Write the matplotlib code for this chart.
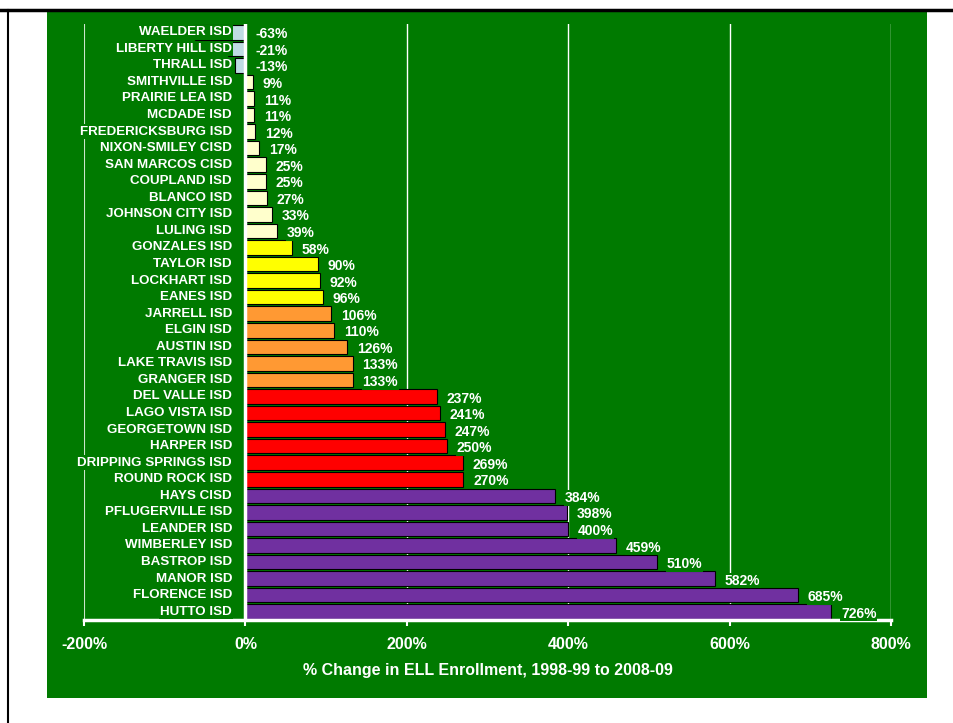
import matplotlib.pyplot as plt
from matplotlib.patches import Rectangle
from matplotlib.lines import Line2D

districts = [
    "WAELDER ISD", "LIBERTY HILL ISD", "THRALL ISD", "SMITHVILLE ISD", "PRAIRIE LEA ISD",
    "MCDADE ISD", "FREDERICKSBURG ISD", "NIXON-SMILEY CISD", "SAN MARCOS CISD", "COUPLAND ISD",
    "BLANCO ISD", "JOHNSON CITY ISD", "LULING ISD", "GONZALES ISD", "TAYLOR ISD",
    "LOCKHART ISD", "EANES ISD", "JARRELL ISD", "ELGIN ISD", "AUSTIN ISD",
    "LAKE TRAVIS ISD", "GRANGER ISD", "DEL VALLE ISD", "LAGO VISTA ISD", "GEORGETOWN ISD",
    "HARPER ISD", "DRIPPING SPRINGS ISD", "ROUND ROCK ISD", "HAYS CISD", "PFLUGERVILLE ISD",
    "LEANDER ISD", "WIMBERLEY ISD", "BASTROP ISD", "MANOR ISD", "FLORENCE ISD", "HUTTO ISD",
]
pct_change = [
    -63, -21, -13, 9, 11, 11, 12, 17, 25, 25, 27, 33, 39, 58, 90, 92, 96,
    106, 110, 126, 133, 133, 237, 241, 247, 250, 269, 270,
    384, 398, 400, 459, 510, 582, 685, 726,
]
xticks = [-200, 0, 200, 400, 600, 800]


def bar_color(v):
    if v < 0:
        return "#BFDCE3"
    if v < 50:
        return "#FFFFCC"
    if v < 100:
        return "#FFFF00"
    if v < 200:
        return "#FF9933"
    if v < 300:
        return "#FF0000"
    return "#7030A0"


green = "#007A00"
fig = plt.figure(figsize=(9.54, 7.23), dpi=100)
fig.patch.set_facecolor("white")

# green panel and black frame lines
fig.patches.append(Rectangle((0.0493, 0.0346), 0.9224, 0.9488, transform=fig.transFigure,
                             facecolor=green, edgecolor="none", zorder=-10))
fig.lines.append(Line2D([0, 1], [0.9855, 0.9855], transform=fig.transFigure, color="black", lw=2.5))
fig.lines.append(Line2D([0.0085, 0.0085], [0, 0.9855], transform=fig.transFigure, color="black", lw=1.5))

ax = fig.add_axes([0.0881, 0.1425, 0.8459, 0.8243])
ax.set_facecolor(green)
ax.patch.set_alpha(0)

n = len(districts)
ypos = list(range(n))
ax.barh(ypos, pct_change, height=0.88, color=[bar_color(v) for v in pct_change],
        edgecolor="black", linewidth=0.8, zorder=3)

ax.set_xlim(-200, 800)
ax.set_ylim(n - 0.5, -0.5)

for x in [-200, 200, 400, 600, 800]:
    ax.axvline(x, color="white", lw=1.0 if x != -200 else 0.8,
               alpha=1 if x != -200 else 0.8, zorder=1)
ax.axvline(0, color="white", lw=2.5, zorder=4)

# category labels sit on opaque green boxes (they hide the negative bars, as in the original)
for y, name, v in zip(ypos, districts, pct_change):
    ax.annotate(name, (0, y), xytext=(-9.6, 0), textcoords="offset points",
                ha="right", va="center", color="white", fontsize=9.6, fontweight="bold",
                fontfamily="Liberation Sans", annotation_clip=False,
                bbox=dict(facecolor=green, edgecolor="none", pad=1.0), zorder=6)
    ax.annotate(f"{v}%", (max(v, 0), y), xytext=(7, -1.5), textcoords="offset points",
                ha="left", va="center", color="white", fontsize=10, fontweight="bold",
                fontfamily="Liberation Sans",
                bbox=dict(facecolor=green, edgecolor="none", pad=0.5), zorder=5)

ax.set_yticks([])
ax.set_xticks(xticks)
ax.set_xticklabels([f"{t}%" for t in xticks], color="white", fontsize=11.5, fontweight="bold",
                   fontfamily="Liberation Sans")
ax.tick_params(axis="x", colors="white", length=4, width=1.5, pad=8)
for s in ["top", "right", "left"]:
    ax.spines[s].set_visible(False)
ax.spines["bottom"].set_color("white")
ax.spines["bottom"].set_linewidth(2.5)
ax.spines["bottom"].set_zorder(4)
ax.set_xlabel("% Change in ELL Enrollment, 1998-99 to 2008-09", color="white", fontsize=11.5,
              fontweight="bold", fontfamily="Liberation Sans", labelpad=8)

fig.savefig("out.png", dpi=100, facecolor="white")
